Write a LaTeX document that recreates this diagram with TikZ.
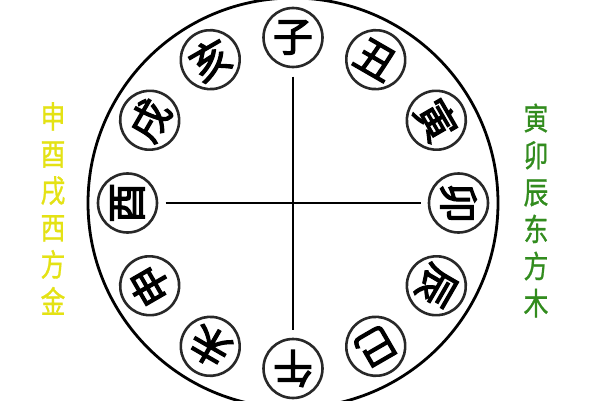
\documentclass[tikz,border=0pt]{standalone}
\usepackage{fontspec}
\usetikzlibrary{calc}
\newfontfamily\cjk[FakeBold=1]{Noto Sans CJK SC}
\newfontfamily\cjkb[FakeBold=3]{Noto Sans CJK SC}
\definecolor{sideyellow}{RGB}{228,226,20}
\definecolor{sidegreen}{RGB}{50,140,30}
\definecolor{ringgray}{RGB}{40,40,40}
\begin{document}
\begin{tikzpicture}[x=1pt,y=1pt,
  branch/.style={circle,draw=ringgray,line width=2.6pt,minimum size=59pt,inner sep=0pt,
    font=\cjkb\fontsize{40}{40}\selectfont},
  sidetext/.style={align=center,inner sep=0pt,xscale=0.8,
    font=\cjk\fontsize{31}{37}\selectfont},
  axis/.style={line width=2.2pt,black}]
\useasboundingbox (0,0) rectangle (600,400);
\clip (0,0) rectangle (600,400);
\fill[white] (0,0) rectangle (600,400);
\coordinate (c) at (293,197);
\draw[line width=2.8pt] (c) circle[radius=205];
\foreach \name/\ch [count=\i from 0] in {zi/子,chou/丑,yin/寅,mao/卯,chen/辰,si/巳,wu/午,wei/未,shen/申,you/酉,xu/戌,hai/亥}{
  \pgfmathsetmacro{\ang}{90-30*\i}
  \node[branch,rotate=-30*\i] (\name) at ($(c)+(\ang:165.5)$) {\ch};
}
\coordinate (vtop) at ($(zi)+(0,-39)$);
\coordinate (vbot) at ($(wu)+(0,39)$);
\coordinate (hleft) at ($(you)+(38,0)$);
\coordinate (hright) at ($(mao)+(-38,0)$);
\draw[axis] (vtop) -- (vbot);
\draw[axis] (hleft) -- (hright);
\node[sidetext,text=sideyellow] (west) at (53,191.5) {申\\酉\\戌\\西\\方\\金};
\node[sidetext,text=sidegreen] (east) at (536,189.5) {寅\\卯\\辰\\东\\方\\木};
\end{tikzpicture}
\end{document}
